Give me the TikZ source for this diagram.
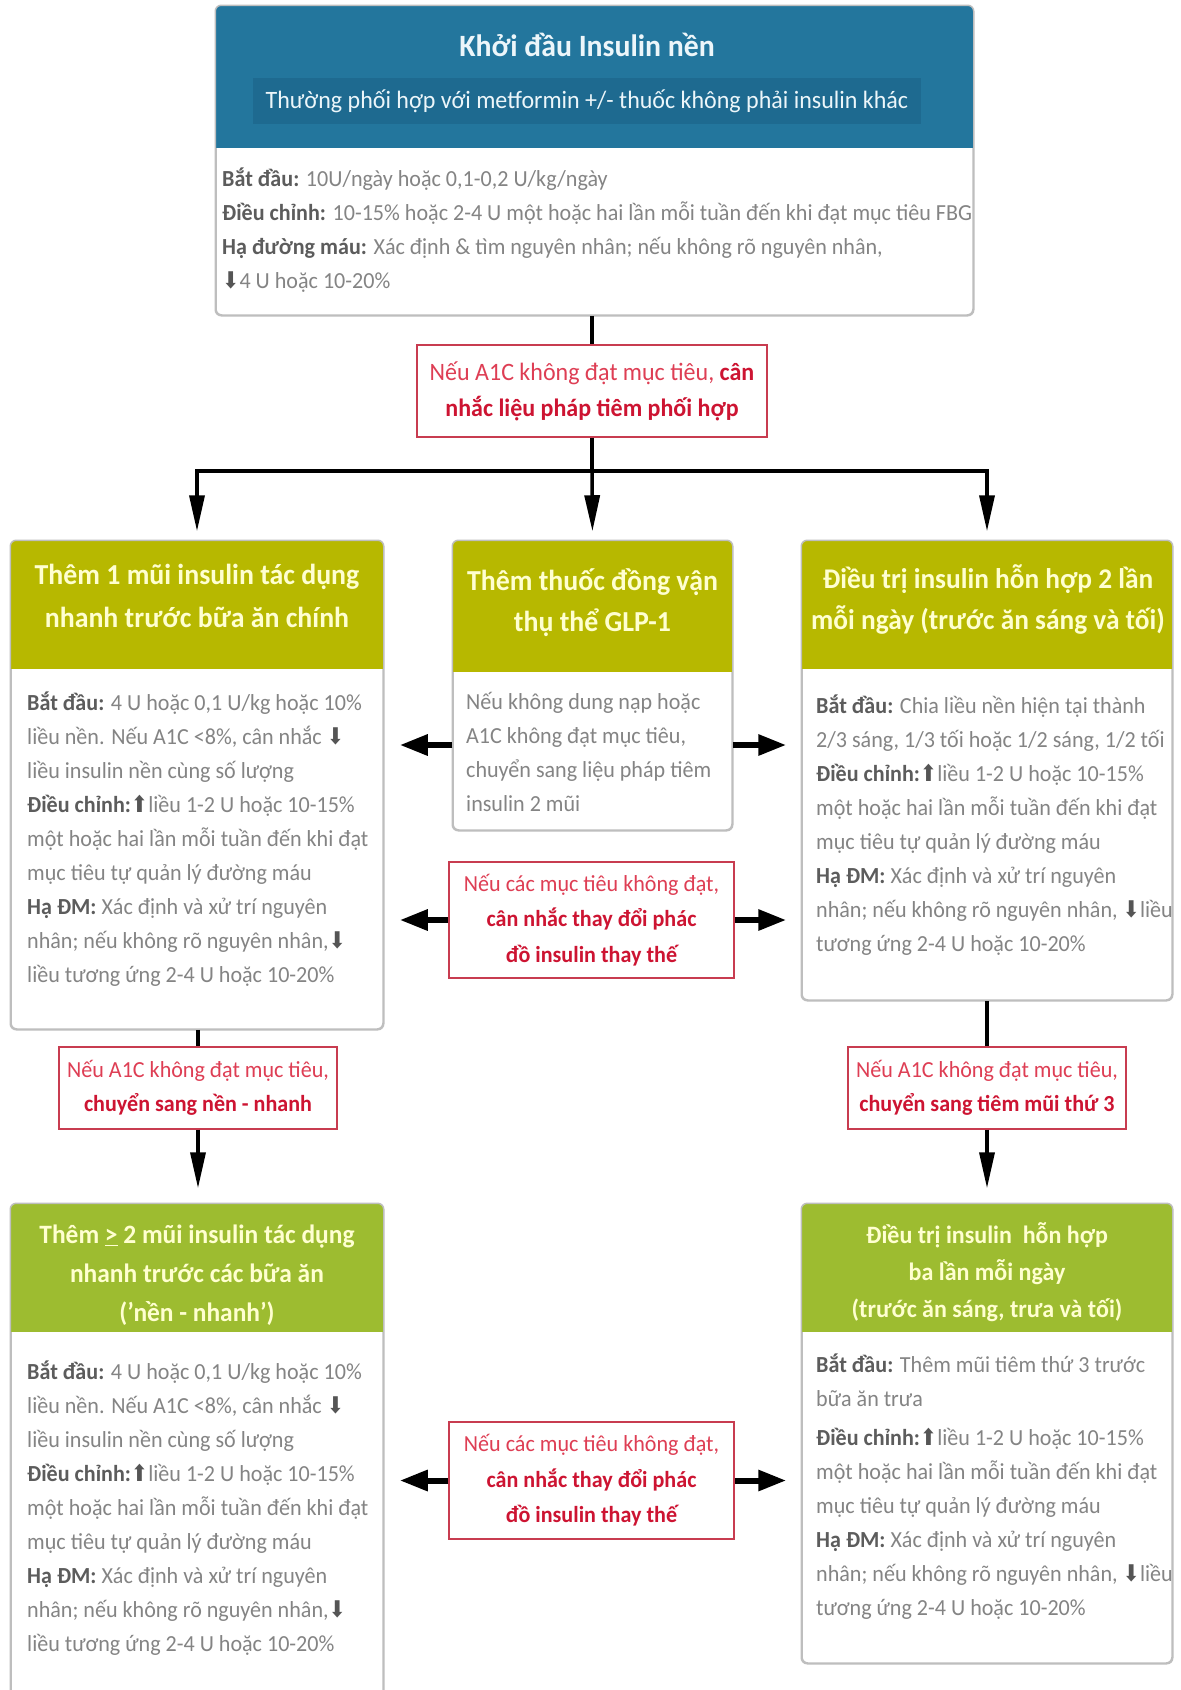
\documentclass[tikz,border=0pt]{standalone}
\usepackage{fontspec}
\setmainfont{Carlito}[FakeStretch=0.96]
\newfontfamily\arrowfont{DejaVu Sans}[FakeStretch=0.9]
\usetikzlibrary{arrows.meta}
\definecolor{hdrblue}{RGB}{35,118,157}
\definecolor{bandblue}{RGB}{30,106,144}
\definecolor{olivehdr}{RGB}{183,184,0}
\definecolor{greenhdr}{RGB}{157,188,48}
\definecolor{titleyellow}{RGB}{255,255,208}
\definecolor{titlewhite}{RGB}{236,246,250}
\definecolor{cardgray}{RGB}{190,190,190}
\definecolor{bodygray}{RGB}{132,132,132}
\definecolor{labelgray}{RGB}{92,92,92}
\definecolor{arrowgray}{RGB}{85,85,85}
\definecolor{redline}{RGB}{200,60,80}
\definecolor{redtxt}{RGB}{222,62,84}
\definecolor{redbold}{RGB}{205,20,50}
\newcommand\lbl[1]{{\bfseries\color{labelgray}#1}}
\newcommand\rb[1]{{\bfseries\color{redbold}#1}}
\newcommand\mydown{{\arrowfont\color{arrowgray}⬇}}
\newcommand\myup{{\arrowfont\color{arrowgray}⬆}}
\newcommand\hdrfill[3]{%
  \begin{scope}
    \clip[rounded corners=6pt] (#1.north west) rectangle (#1.south east);
    \fill[#3] (#1.north west) rectangle ([yshift=-#2pt]#1.north east);
  \end{scope}
  \draw[draw=cardgray, line width=1.5pt, rounded corners=6pt] (#1.north west) rectangle (#1.south east);}
\tikzset{
  card/.style={draw=cardgray, line width=1.5pt, fill=white, rounded corners=6pt, inner sep=0pt},
  redbox/.style={draw=redline, line width=1.2pt, fill=white, text=redtxt, align=center, inner sep=0pt, font=\fontsize{23}{34}\selectfont},
  body/.style={anchor=north west, inner sep=0pt, align=left, text=bodygray, font=\fontsize{23}{34}\selectfont},
  htitle/.style={text=titleyellow, align=center, inner sep=0pt, font=\bfseries\fontsize{29}{43}\selectfont},
  vline/.style={line width=3.5pt, draw=black},
  varr/.style={vline, -{Triangle[width=15pt,length=36pt]}, shorten >=9pt},
  harr/.style={line width=6pt, draw=black, -{Triangle[width=20pt,length=28pt]}, shorten >=15pt}
}
\begin{document}
\begin{tikzpicture}[x=1pt,y=-1pt]
\fill[white] (0,0) rectangle (1181,1690);
\useasboundingbox (0,0) rectangle (1181,1690);

% ---------- cards ----------
\node[card, minimum width=757, minimum height=309] (top) at (594.5,160.5) {};
\hdrfill{top}{143}{hdrblue}
\node[card, minimum width=372, minimum height=488] (L1) at (197,785) {};
\hdrfill{L1}{129}{olivehdr}
\node[card, minimum width=279, minimum height=289] (M) at (592.5,685.5) {};
\hdrfill{M}{132}{olivehdr}
\node[card, minimum width=370, minimum height=459] (R1) at (987,770.5) {};
\hdrfill{R1}{129}{olivehdr}
\node[card, minimum width=372, minimum height=516] (L2) at (197,1462) {};
\hdrfill{L2}{129}{greenhdr}
\node[card, minimum width=370, minimum height=459] (R2) at (987,1433.5) {};
\hdrfill{R2}{129}{greenhdr}

% ---------- top card text ----------
\node[text=titlewhite, inner sep=0pt, font=\bfseries\fontsize{31}{36}\selectfont] (toptitle) at (587,45) {Khởi đầu Insulin nền};
\node[fill=bandblue, text=titlewhite, inner sep=0pt, minimum width=668, minimum height=46, font=\fontsize{25}{30}\selectfont] (sub) at (587,101) {Thường phối hợp với metformin +/- thuốc không phải insulin khác};
\node[body] (topb) at (222,162.7) {\strut\lbl{Bắt đầu:} 10U/ngày hoặc 0,1-0,2 U/kg/ngày\\
\lbl{Điều chỉnh:} 10-15\% hoặc 2-4 U một hoặc hai lần mỗi tuần đến khi đạt mục tiêu FBG\\
\lbl{Hạ đường máu:} Xác định \& tìm nguyên nhân; nếu không rõ nguyên nhân,\\
\mydown4 U hoặc 10-20\%};

% ---------- L1 ----------
\node[htitle] (L1t) at (197,595.5) {Thêm 1 mũi insulin tác dụng\\nhanh trước bữa ăn chính};
\node[body] (L1b) at (27,686.7) {\strut\lbl{Bắt đầu:} 4 U hoặc 0,1 U/kg hoặc 10\%\\
liều nền. Nếu A1C <8\%, cân nhắc \mydown\\
liều insulin nền cùng số lượng\\
\lbl{Điều chỉnh:}\myup liều 1-2 U hoặc 10-15\%\\
một hoặc hai lần mỗi tuần đến khi đạt\\
mục tiêu tự quản lý đường máu\\
\lbl{Hạ ĐM:} Xác định và xử trí nguyên\\
nhân; nếu không rõ nguyên nhân,\mydown\\
liều tương ứng 2-4 U hoặc 10-20\%};

% ---------- M ----------
\node[htitle, font=\bfseries\fontsize{29}{41}\selectfont] (Mt) at (592.5,602.5) {Thêm thuốc đồng vận\\thụ thể GLP-1};
\node[body] (Mb) at (466,685.7) {\strut Nếu không dung nạp hoặc\\
A1C không đạt mục tiêu,\\
chuyển sang liệu pháp tiêm\\
insulin 2 mũi};

% ---------- R1 ----------
\node[htitle, font=\bfseries\fontsize{28.5}{41}\selectfont] (R1t) at (988,599.5) {Điều trị insulin hỗn hợp 2 lần\\mỗi ngày (trước ăn sáng và tối)};
\node[body] (R1b) at (816,689.7) {\strut\lbl{Bắt đầu:} Chia liều nền hiện tại thành\\
2/3 sáng, 1/3 tối hoặc 1/2 sáng, 1/2 tối\\
\lbl{Điều chỉnh:}\myup liều 1-2 U hoặc 10-15\%\\
một hoặc hai lần mỗi tuần đến khi đạt\\
mục tiêu tự quản lý đường máu\\
\lbl{Hạ ĐM:} Xác định và xử trí nguyên\\
nhân; nếu không rõ nguyên nhân, \mydown liều\\
tương ứng 2-4 U hoặc 10-20\%};

% ---------- L2 ----------
\node[htitle, font=\bfseries\fontsize{26.5}{39}\selectfont] (L2t) at (197,1275) {Thêm \underline{>} 2 mũi insulin tác dụng\\nhanh trước các bữa ăn\\('nền - nhanh')};
\node[body] (L2b) at (27,1355.7) {\strut\lbl{Bắt đầu:} 4 U hoặc 0,1 U/kg hoặc 10\%\\
liều nền. Nếu A1C <8\%, cân nhắc \mydown\\
liều insulin nền cùng số lượng\\
\lbl{Điều chỉnh:}\myup liều 1-2 U hoặc 10-15\%\\
một hoặc hai lần mỗi tuần đến khi đạt\\
mục tiêu tự quản lý đường máu\\
\lbl{Hạ ĐM:} Xác định và xử trí nguyên\\
nhân; nếu không rõ nguyên nhân,\mydown\\
liều tương ứng 2-4 U hoặc 10-20\%};

% ---------- R2 ----------
\node[htitle, font=\bfseries\fontsize{25}{37}\selectfont] (R2t) at (987,1272) {Điều trị insulin\ \ hỗn hợp\\ba lần mỗi ngày\\(trước ăn sáng, trưa và tối)};
\node[body] (R2b) at (816,1348.7) {\strut\lbl{Bắt đầu:} Thêm mũi tiêm thứ 3 trước\\
bữa ăn trưa\\[5pt]
\lbl{Điều chỉnh:}\myup liều 1-2 U hoặc 10-15\%\\
một hoặc hai lần mỗi tuần đến khi đạt\\
mục tiêu tự quản lý đường máu\\
\lbl{Hạ ĐM:} Xác định và xử trí nguyên\\
nhân; nếu không rõ nguyên nhân, \mydown liều\\
tương ứng 2-4 U hoặc 10-20\%};

% ---------- red condition boxes ----------
\node[redbox, font=\fontsize{25}{36}\selectfont, minimum width=350, minimum height=92] (r1) at (592,391) {Nếu A1C không đạt mục tiêu, \rb{cân}\\\rb{nhắc liệu pháp tiêm phối hợp}};
\node[redbox, font=\fontsize{23}{35.5}\selectfont, minimum width=285, minimum height=116] (r2) at (591.5,920) {Nếu các mục tiêu không đạt,\\\rb{cân nhắc thay đổi phác}\\\rb{đồ insulin thay thế}};
\node[redbox, minimum width=278, minimum height=82] (r3) at (198,1088) {Nếu A1C không đạt mục tiêu,\\\rb{chuyển sang nền - nhanh}};
\node[redbox, minimum width=278, minimum height=82] (r4) at (987,1088) {Nếu A1C không đạt mục tiêu,\\\rb{chuyển sang tiêm mũi thứ 3}};
\node[redbox, font=\fontsize{23}{35.5}\selectfont, minimum width=285, minimum height=117] (r5) at (591.5,1480.5) {Nếu các mục tiêu không đạt,\\\rb{cân nhắc thay đổi phác}\\\rb{đồ insulin thay thế}};

% ---------- connectors ----------
\coordinate (j) at (592,471);
\draw[vline] (top.south -| r1.north) -- (r1.north);
\draw[vline] (r1.south) -- (j);
\draw[varr] (j) -| (L1.north);
\draw[varr] (j) -- (M.north);
\draw[varr] (j) -| (R1.north);

\coordinate (mL) at ([yshift=-59.5pt]M.west);
\coordinate (mR) at ([yshift=-59.5pt]M.east);
\draw[harr, shorten >=16pt] (mL) -- (mL -| L1.east);
\draw[harr] (mR) -- (mR -| R1.west);
\draw[harr, shorten >=16pt] (r2.west) -- (r2.west -| L1.east);
\draw[harr] (r2.east) -- (r2.east -| R1.west);
\draw[harr, shorten >=16pt] (r5.west) -- (r5.west -| L2.east);
\draw[harr] (r5.east) -- (r5.east -| R2.west);

\draw[vline] (L1.south -| r3.north) -- (r3.north);
\draw[varr, shorten >=15pt] (r3.south) -- (r3.south |- L2.north);
\draw[vline] (R1.south) -- (r4.north);
\draw[varr, shorten >=15pt] (r4.south) -- (R2.north);
\end{tikzpicture}
\end{document}
